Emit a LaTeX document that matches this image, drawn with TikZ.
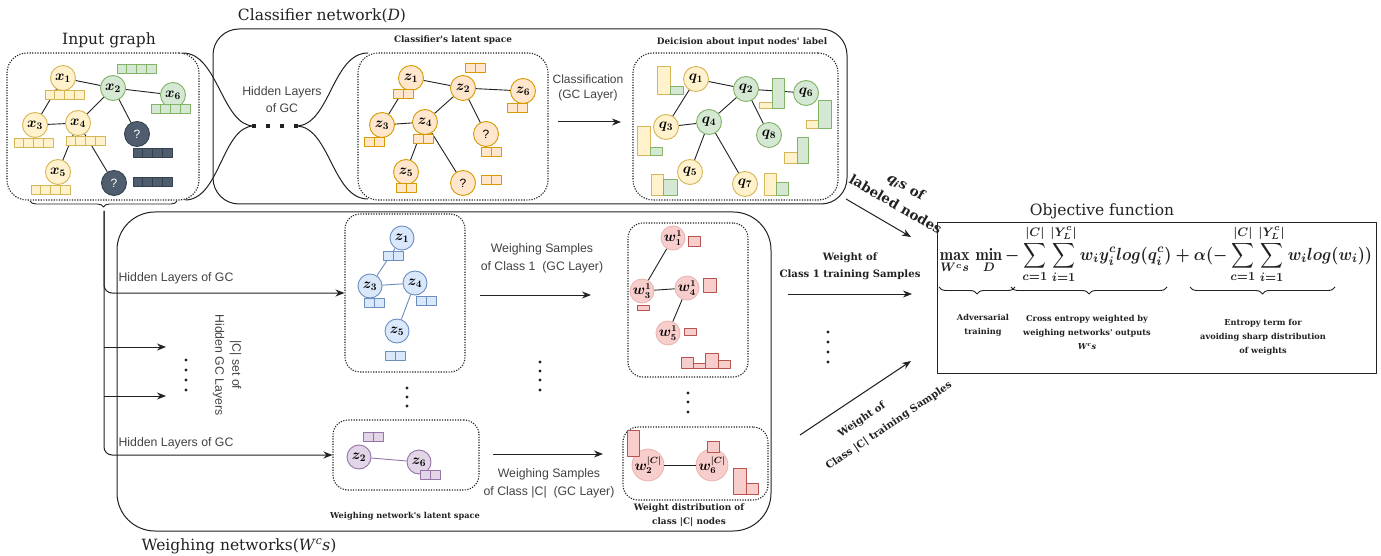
\documentclass[tikz,border=0pt]{standalone}
\usepackage{amsmath}
\usepackage{fontspec}
\newfontfamily\sansfont{Liberation Sans}
\newfontfamily\seriffont{DejaVu Serif}
\usetikzlibrary{arrows.meta,decorations.pathreplacing,fit}

\definecolor{yelF}{HTML}{FFF2CC}\definecolor{yelD}{HTML}{D6B656}
\definecolor{grnF}{HTML}{D5E8D4}\definecolor{grnD}{HTML}{82B366}
\definecolor{orF}{HTML}{FFE6CC}\definecolor{orD}{HTML}{D79B00}
\definecolor{slF}{HTML}{4F5D6E}\definecolor{slD}{HTML}{33414F}
\definecolor{blF}{HTML}{DAE8FC}\definecolor{blD}{HTML}{6C8EBF}
\definecolor{puF}{HTML}{E1D5E7}\definecolor{puD}{HTML}{9673A6}
\definecolor{rdF}{HTML}{F8CECC}\definecolor{rdD}{HTML}{B85450}
\definecolor{ink}{HTML}{222222}

% a row of feature cells: left, top, count, cell width, style
\newcommand\featcells[5]{%
  \foreach \k in {1,...,#3}{\draw[#5] ({#1+(\k-1)*#4},#2) rectangle ++(#4,9);}}
% W^c s written in text italics
\newcommand\wcs{\textit{W}\textsuperscript{\textit{c}}\textit{s}}

\begin{document}
\begin{tikzpicture}[x=1pt,y=-1pt,line join=round,
  title/.style={font=\seriffont\fontsize{15.5}{18}\selectfont, text=ink},
  sub/.style={font=\seriffont\bfseries\fontsize{8.9}{14}\selectfont, text=ink, align=center},
  captext/.style={font=\seriffont\bfseries\fontsize{8.2}{14}\selectfont, text=ink, align=center},
  lab/.style={font=\sansfont\fontsize{12.3}{17}\selectfont, text=ink!85, align=center},
  side/.style={font=\seriffont\bfseries\fontsize{10.1}{17}\selectfont, text=ink, align=center},
  gn/.style={circle, line width=0.9pt, minimum size=25pt, inner sep=0pt, font=\fontsize{14.5}{14.5}\selectfont\boldmath},
  yn/.style={gn, draw=yelD, fill=yelF},
  gr/.style={gn, draw=grnD, fill=grnF},
  on/.style={gn, draw=orD, fill=orF},
  sn/.style={gn, draw=slD, fill=slF, text=white, font=\sansfont\fontsize{12}{12}\selectfont},
  bn/.style={gn, minimum size=24pt, draw=blD, fill=blF},
  pn/.style={gn, minimum size=24pt, draw=puD, fill=puF},
  rn/.style={gn, minimum size=24pt, draw=rdF!80!rdD, fill=rdF, font=\fontsize{13.5}{13.5}\selectfont\boldmath},
  yc/.style={draw=yelD, fill=yelF, line width=0.8pt},
  gc/.style={draw=grnD, fill=grnF, line width=0.8pt},
  oc/.style={draw=orD, fill=orF, line width=0.8pt},
  sc/.style={draw=slD, fill=slF, line width=0.8pt},
  bc/.style={draw=blD, fill=blF, line width=0.8pt},
  pc/.style={draw=puD, fill=puF, line width=0.8pt},
  rc/.style={draw=rdD, fill=rdF, line width=0.8pt},
  dbox/.style={draw=ink, line width=1.1pt, dash pattern=on 1.2pt off 1.4pt, rounded corners=16pt, inner sep=0pt},
  sbox/.style={draw=ink, line width=1pt, inner sep=0pt},
  edge/.style={draw=ink, line width=0.9pt},
  arr/.style={draw=ink, line width=1pt, -{Stealth[length=9pt,width=7pt]}},
  conn/.style={draw=ink, line width=1pt},
  brc/.style={draw=ink, line width=0.9pt, decorate, decoration={brace, mirror, amplitude=7pt}},
]
\fill[white] (0,0) rectangle (1381,556);
\useasboundingbox (0,0) rectangle (1381,556);

% ---------------- input graph ----------------
\node[title] (tin) at (109,40) {Input graph};
\node[dbox, rounded corners=20pt, fit={(7,53) (199,200)}] (gin) {};
\node[yn] (x1) at (63,78) {$x_1$};
\node[gr] (x2) at (113,88) {$x_2$};
\node[gr] (x6) at (173,95) {$x_6$};
\node[yn] (x3) at (35,125) {$x_3$};
\node[yn] (x4) at (78,123) {$x_4$};
\node[yn] (x5) at (58,172) {$x_5$};
\node[sn] (u1) at (137,134) {?};
\node[sn] (u2) at (114,183) {?};
\draw[edge] (x1)--(x3) (x1)--(x2) (x2)--(x6) (x2)--(x4) (x2)--(u1)
            (x3)--(x4) (x4)--(x5) (x4)--(u2);
\featcells{117}{64}{4}{9.75}{gc}
\featcells{45}{90}{4}{9.75}{yc}
\featcells{151}{104}{4}{9.75}{gc}
\featcells{14}{138}{4}{9.75}{yc}
\featcells{66}{136}{4}{9.75}{yc}
\featcells{31}{185}{4}{9.75}{yc}
\featcells{133}{148}{4}{9.75}{sc}
\featcells{133}{177}{4}{9.75}{sc}

% ---------------- classifier network ----------------
\node[title] (tcl) at (322,16) {Classifier network(\textit{D})};
\node[sbox, rounded corners=26pt, fit={(213,29) (847,204)}] (clf) {};
\node[lab] (hid) at (282,100) {Hidden Layers\\of GC};
\coordinate (hl) at (254,126);
\coordinate (hr) at (296,126);
\foreach \xx in {254,268,282,296} \fill[ink] (\xx-1.6,124.4) rectangle ++(3.2,3.2);

% classifier latent space
\node[sub] (tcls) at (453,40) {Classifier's latent space};
\node[dbox, rounded corners=20pt, fit={(358,53) (548,200)}] (cls) {};
\coordinate (ina) at (183,53);
\coordinate (inb) at (185,200);
\coordinate (clsa) at (368,53);
\coordinate (clsb) at (368,199);
\draw[conn] (ina) .. controls (218,53) and (222,126) .. (hl);
\draw[conn] (inb) .. controls (220,200) and (222,126) .. (hl);
\draw[conn] (hr) .. controls (330,126) and (332,53) .. (clsa);
\draw[conn] (hr) .. controls (330,126) and (332,199) .. (clsb);

\node[on] (z1) at (411,78) {$z_1$};
\node[on] (z2) at (463,88) {$z_2$};
\node[on] (z6) at (523,91) {$z_6$};
\node[on] (z3) at (382,125) {$z_3$};
\node[on] (z4) at (425,122) {$z_4$};
\node[on, font=\sansfont\fontsize{12}{12}\selectfont] (cu1) at (486,134) {?};
\node[on] (z5) at (406,172) {$z_5$};
\node[on, font=\sansfont\fontsize{12}{12}\selectfont] (cu2) at (463,183) {?};
\draw[edge] (z1)--(z3) (z1)--(z2) (z2)--(z6) (z2)--(z4) (z2)--(cu1)
            (z3)--(z4) (z4)--(z5) (z4)--(cu2);
\featcells{393}{89}{2}{10}{oc}
\featcells{465}{63}{2}{10}{oc}
\featcells{507}{103}{2}{10}{oc}
\featcells{364}{137}{2}{10}{oc}
\featcells{413}{134}{2}{10}{oc}
\featcells{481}{147}{2}{10}{oc}
\featcells{396}{183}{2}{10}{oc}
\featcells{481}{175}{2}{10}{oc}

% classification step
\node[lab, font=\sansfont\fontsize{12}{15}\selectfont] (tcf) at (588,88) {Classification\\(GC Layer)};
\coordinate (cfa) at (558,122);
\coordinate (cfb) at (621,122);
\draw[arr] (cfa) -- (cfb);

% decision about labels
\node[sub] (tdec) at (742,42) {Deicision about input nodes' label};
\node[dbox, rounded corners=20pt, fit={(633,53) (838,200)}] (dec) {};
\node[yn] (q1) at (696,79) {$q_1$};
\node[gr] (q2) at (746,89) {$q_2$};
\node[gr] (q6) at (806,93) {$q_6$};
\node[yn] (q3) at (666,127) {$q_3$};
\node[gr] (q4) at (709,122) {$q_4$};
\node[gr] (q8) at (769,135) {$q_8$};
\node[yn] (q5) at (690,172) {$q_5$};
\node[yn] (q7) at (745,184) {$q_7$};
\draw[edge] (q1)--(q3) (q1)--(q2) (q2)--(q6) (q2)--(q4) (q2)--(q8)
            (q3)--(q4) (q4)--(q5) (q4)--(q7);
\foreach \a/\b/\c/\d/\e/\f/\g/\h in {
  657/66/670/94/670/86/683/94,
  759/102/772/108/772/78/784/108,
  806/120/818/128/818/100/831/128,
  637/126/650/155/650/147/662/155,
  784/152/797/163/797/137/808/163,
  651/174/663/195/663/179/677/195,
  764/173/776/195/776/182/788/195}{
  \draw[yc] (\a,\b) rectangle (\c,\d);
  \draw[gc] (\e,\f) rectangle (\g,\h);}

% labelled-node outputs to the objective
\node[font=\seriffont\bfseries\fontsize{13.5}{21}\selectfont, text=ink, align=center, rotate=-30] (tql) at (901,195) {\textit{q}\textsubscript{\textit{i}}s of\\labeled nodes};
\coordinate (qla) at (846,199);
\coordinate (qlb) at (911,237);
\draw[arr] (qla) -- (qlb);

% ---------------- objective function ----------------
\node[title] (tobj) at (1102,211) {Objective function};
\node[sbox, fit={(937,223) (1376,373)}] (objbox) {};
\node[inner sep=0pt, text=ink] (obj) at (1156,254) {\resizebox*{432pt}{58pt}{\boldmath$\displaystyle \mathop{\mathrm{max}}\limits_{W^c s}\,\mathop{\mathrm{min}}\limits_{D} - \sum_{c=1}^{|C|}\sum_{i=1}^{|Y_L^c|} w_i y_i^c log(q_i^c) + \alpha(-\sum_{c=1}^{|C|}\sum_{i=1}^{|Y_L^c|} w_i log(w_i))$}};
\coordinate (ba1) at (939,287); \coordinate (bb1) at (1015,287);
\coordinate (ba2) at (1011,287); \coordinate (bb2) at (1167,287);
\coordinate (ba3) at (1190,287); \coordinate (bb3) at (1335,287);
\draw[brc] (ba1) -- (bb1);
\draw[brc] (ba2) -- (bb2);
\draw[brc] (ba3) -- (bb3);
\node[captext] (adv) at (983,325) {Adversarial\\training};
\node[captext] (cre) at (1087,332) {Cross entropy weighted by\\weighing networks' outputs\\\wcs};
\node[captext] (ent) at (1263,337) {Entropy term for\\avoiding sharp distribution\\of weights};

% class weights to the objective
\node[side] (tw1) at (850,266) {Weight of\\Class 1 training Samples};
\coordinate (w1a) at (788,294);
\coordinate (w1b) at (912,294);
\draw[arr] (w1a) -- (w1b);
\foreach \yy in {332,342,352,362} \fill[ink] (828,\yy) circle (1.7);
\coordinate (wca) at (800,435);
\coordinate (wcb) at (911,361);
\draw[arr] (wca) -- (wcb);
\node[side, rotate=34] (twc1) at (862,420) {Weight of};
\node[side, rotate=34] (twc2) at (889,426) {Class |C| training Samples};

% ---------------- weighing networks ----------------
\node[sbox, rounded corners=38pt, fit={(117,212) (771,531)}] (wgh) {};
\node[title] (twg) at (239,546) {Weighing networks(\wcs)};

% input split into |C| branches
\coordinate (b1) at (30,201); \coordinate (b2) at (177,201);
\draw[brc, decoration={brace, mirror, amplitude=6pt}] (b1) -- (b2);
\coordinate (bt) at (104,211);

% top latent space (class 1)
\node[dbox, rounded corners=15pt, fit={(345,214) (465,372)}] (wl1) {};
\node[bn] (bz1) at (402,238) {$z_1$};
\node[bn] (bz3) at (370,286) {$z_3$};
\node[bn] (bz4) at (415,283) {$z_4$};
\node[bn] (bz5) at (397,331) {$z_5$};
\draw[edge, draw=blD] (bz1)--(bz3) (bz3)--(bz4) (bz4)--(bz5);
\featcells{383}{251}{2}{10}{bc}
\featcells{364}{298}{2}{10}{bc}
\featcells{416}{296}{2}{10}{bc}
\featcells{385}{351}{2}{10}{bc}
\foreach \yy in {388,397,406} \fill[ink] (407,\yy) circle (1.6);

% bottom latent space (class |C|)
\node[dbox, rounded corners=15pt, fit={(333,420) (479,490)}] (wl2) {};
\node[pn] (pz2) at (359,457) {$z_2$};
\node[pn] (pz6) at (419,462) {$z_6$};
\draw[edge, draw=puD] (pz2)--(pz6);
\featcells{363}{432}{2}{10}{pc}
\featcells{420}{470}{2}{10}{pc}
\node[captext] (twl) at (405,516) {Weighing network's latent space};

\draw[arr, rounded corners=8pt] (bt) |- (wl1.west);
\draw[arr, rounded corners=8pt] (bt) |- (wl2.west);
\node[lab] (th1) at (176,278) {Hidden Layers of GC};
\node[lab] (th2) at (176,443) {Hidden Layers of GC};
\coordinate (s1) at (104,347); \coordinate (e1) at (166,347);
\coordinate (s2) at (104,396); \coordinate (e2) at (166,396);
\draw[arr] (s1) -- (e1);
\draw[arr] (s2) -- (e2);
\foreach \yy in {360,370,380,390} \fill[ink] (186,\yy) circle (1.6);
\node[lab, rotate=-90] (tset) at (227,365) {|C| set of\\Hidden GC Layers};

% weighing steps
\node[lab, font=\sansfont\fontsize{12.3}{18}\selectfont] (tws1) at (542,258) {Weighing Samples\\of Class 1\ \ (GC Layer)};
\coordinate (wsa) at (480,295); \coordinate (wsb) at (591,295);
\draw[arr] (wsa) -- (wsb);
\foreach \yy in {362,371,380,390} \fill[ink] (540,\yy) circle (1.6);
\coordinate (wsc) at (493,454); \coordinate (wsd) at (603,454);
\draw[arr] (wsc) -- (wsd);
\node[lab, font=\sansfont\fontsize{12.3}{18}\selectfont] (tws2) at (549,483) {Weighing Samples\\of Class |C|\ \ (GC Layer)};

% weights of class 1 samples
\node[dbox, rounded corners=15pt, fit={(628,223) (748,377)}] (wd1) {};
\node[rn] (w11) at (673,238) {$w_1^1$};
\node[rn] (w31) at (642,291) {$w_3^1$};
\node[rn] (w41) at (687,288) {$w_4^1$};
\node[rn] (w51) at (668,333) {$w_5^1$};
\draw[edge] (w11)--(w31) (w31)--(w41) (w41)--(w51);
\foreach \a/\b/\c/\d in {688/236/700/246, 703/278/716/292, 637/305/649/310, 684/328/696/335,
  681/357/693/368, 693/363/705/368, 705/353/718/368, 718/360/730/368}
  \draw[rc] (\a,\b) rectangle (\c,\d);
\foreach \yy in {393,402,412} \fill[ink] (688,\yy) circle (1.6);

% weights of class |C| samples
\node[dbox, rounded corners=15pt, fit={(623,427) (768,500)}] (wd2) {};
\node[rn] (w2c) at (648,465) {$w_2^{|C|}$};
\node[rn] (w6c) at (712,465) {$w_6^{|C|}$};
\draw[edge] (w2c)--(w6c);
\foreach \a/\b/\c/\d in {627/430/639/456, 707/441/719/452, 733/468/746/494, 746/483/758/494}
  \draw[rc] (\a,\b) rectangle (\c,\d);
\node[sub] (twd) at (689,515) {Weight distribution of\\class |C| nodes};
\end{tikzpicture}
\end{document}
